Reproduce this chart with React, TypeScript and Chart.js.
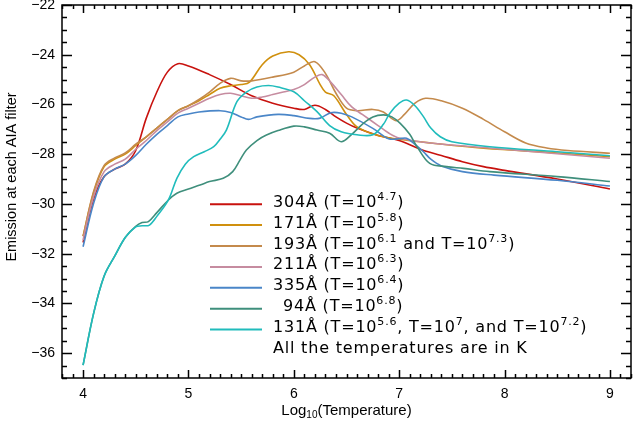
import React, { useEffect, useRef } from 'react';
import { Chart, registerables } from 'chart.js';

Chart.register(...registerables);

// ---------------- data ----------------
const xTicks = [4, 5, 6, 7, 8, 9];
const yTicks = [-36, -34, -32, -30, -28, -26, -24, -22];

const x304 = [4.0, 4.1, 4.2, 4.3, 4.4, 4.5, 4.6, 4.7, 4.8, 4.9, 5.0, 5.2, 5.4, 5.6, 5.8, 6.0, 6.1, 6.2, 6.3, 6.4, 6.5, 6.6, 6.8, 7.0, 7.2, 7.4, 7.6, 7.8, 8.0, 8.5, 9.0];
const y304 = [-31.55, -29.8, -28.9, -28.6, -28.4, -27.85, -26.55, -25.5, -24.7, -24.36, -24.45, -24.8, -25.2, -25.65, -25.95, -26.15, -26.2, -26.03, -26.2, -26.5, -26.75, -26.95, -27.25, -27.45, -27.8, -28.05, -28.3, -28.5, -28.65, -29.0, -29.4];

const x171 = [4.0, 4.1, 4.2, 4.3, 4.4, 4.5, 4.6, 4.7, 4.8, 4.9, 5.0, 5.1, 5.2, 5.3, 5.4, 5.5, 5.58, 5.7, 5.8, 5.95, 6.05, 6.15, 6.25, 6.3, 6.38, 6.5, 6.6, 6.8, 7.0, 7.3, 7.8, 8.5, 9.0];
const y171 = [-31.3, -29.55, -28.5, -28.2, -28.0, -27.65, -27.3, -26.95, -26.6, -26.25, -26.05, -25.85, -25.6, -25.35, -25.25, -25.2, -25.1, -24.4, -24.05, -23.88, -24.0, -24.4, -25.2, -25.5, -25.65, -26.4, -26.9, -27.25, -27.4, -27.55, -27.76, -27.95, -28.1];

const x193 = [4.0, 4.1, 4.2, 4.3, 4.4, 4.5, 4.6, 4.7, 4.8, 4.9, 5.0, 5.1, 5.2, 5.3, 5.4, 5.5, 5.6, 5.8, 6.0, 6.1, 6.2, 6.3, 6.4, 6.5, 6.6, 6.75, 6.85, 6.97, 7.05, 7.15, 7.25, 7.4, 7.6, 7.8, 8.0, 8.2, 8.4, 8.6, 9.0];
const y193 = [-31.3, -29.5, -28.45, -28.15, -27.95, -27.6, -27.3, -26.95, -26.6, -26.25, -26.05, -25.8, -25.5, -25.15, -24.95, -25.05, -25.05, -24.9, -24.7, -24.45, -24.28, -24.75, -25.55, -26.15, -26.25, -26.2, -26.3, -26.65, -26.4, -25.95, -25.75, -25.85, -26.15, -26.6, -27.1, -27.55, -27.75, -27.85, -27.96];

const x211 = [4.0, 4.1, 4.2, 4.3, 4.4, 4.5, 4.6, 4.7, 4.8, 4.9, 5.0, 5.1, 5.2, 5.3, 5.4, 5.5, 5.6, 5.7, 5.8, 5.9, 6.0, 6.1, 6.2, 6.27, 6.35, 6.45, 6.55, 6.65, 6.8, 6.9, 7.0, 7.3, 8.0, 9.0];
const y211 = [-31.45, -29.7, -28.7, -28.4, -28.2, -27.8, -27.45, -27.05, -26.7, -26.35, -26.15, -25.95, -25.75, -25.6, -25.55, -25.65, -25.75, -25.7, -25.6, -25.5, -25.4, -25.2, -24.9, -24.8, -25.1, -25.6, -26.1, -26.4, -26.85, -27.15, -27.35, -27.55, -27.8, -28.16];

const x335 = [4.0, 4.1, 4.2, 4.3, 4.4, 4.5, 4.6, 4.7, 4.8, 4.9, 5.0, 5.1, 5.3, 5.4, 5.5, 5.57, 5.65, 5.85, 6.0, 6.15, 6.25, 6.35, 6.45, 6.55, 6.75, 6.9, 7.0, 7.07, 7.15, 7.23, 7.3, 7.4, 7.6, 7.9, 8.5, 9.0];
const y335 = [-31.72, -29.97, -28.9, -28.6, -28.4, -28.05, -27.6, -27.2, -26.85, -26.5, -26.38, -26.3, -26.25, -26.32, -26.5, -26.6, -26.5, -26.4, -26.45, -26.56, -26.55, -26.33, -26.35, -26.5, -26.96, -27.38, -27.38, -27.36, -27.6, -27.9, -28.2, -28.47, -28.7, -28.84, -29.05, -29.28];

const x94 = [4.0, 4.1, 4.2, 4.3, 4.4, 4.5, 4.56, 4.62, 4.7, 4.81, 4.89, 5.0, 5.11, 5.2, 5.33, 5.42, 5.49, 5.55, 5.65, 5.74, 5.85, 6.0, 6.1, 6.22, 6.34, 6.45, 6.55, 6.66, 6.75, 6.85, 6.93, 7.01, 7.1, 7.17, 7.29, 7.45, 7.61, 7.86, 8.5, 9.0];
const y94 = [-36.48, -34.4, -32.9, -32.1, -31.35, -30.9, -30.75, -30.71, -30.35, -29.84, -29.57, -29.4, -29.24, -29.1, -28.97, -28.7, -28.23, -27.83, -27.45, -27.23, -27.05, -26.87, -26.9, -27.03, -27.16, -27.5, -27.2, -26.76, -26.5, -26.42, -26.5, -26.76, -27.2, -27.7, -28.37, -28.5, -28.57, -28.7, -28.9, -29.1];

const x131 = [4.0, 4.1, 4.2, 4.3, 4.4, 4.5, 4.56, 4.63, 4.7, 4.81, 4.89, 4.97, 5.05, 5.15, 5.24, 5.3, 5.36, 5.46, 5.55, 5.65, 5.76, 5.85, 6.0, 6.1, 6.22, 6.34, 6.45, 6.6, 6.75, 6.85, 6.91, 7.0, 7.07, 7.15, 7.23, 7.3, 7.39, 7.5, 7.86, 8.5, 9.0];
const y131 = [-36.48, -34.4, -32.9, -32.1, -31.35, -30.92, -30.88, -30.85, -30.5, -29.84, -28.97, -28.4, -28.1, -27.9, -27.7, -27.4, -27.03, -25.89, -25.5, -25.3, -25.24, -25.3, -25.49, -25.85, -26.29, -26.85, -27.1, -27.22, -27.22, -26.8, -26.36, -25.95, -25.82, -26.05, -26.49, -26.95, -27.3, -27.5, -27.7, -27.9, -28.06];

// legend text pieces: [text, isSuperscript]
type Seg = [string, boolean];
const legendItems: { color: string; indent: number; segs: Seg[] }[] = [
  { color: '#c8120e', indent: 0, segs: [['304Å (T=10', false], ['4.7', true], [')', false]] },
  { color: '#d0900e', indent: 0, segs: [['171Å (T=10', false], ['5.8', true], [')', false]] },
  { color: '#c48a4c', indent: 0, segs: [['193Å (T=10', false], ['6.1', true], [' and T=10', false], ['7.3', true], [')', false]] },
  { color: '#c68ca0', indent: 0, segs: [['211Å (T=10', false], ['6.3', true], [')', false]] },
  { color: '#4a86c8', indent: 0, segs: [['335Å (T=10', false], ['6.4', true], [')', false]] },
  { color: '#3f8f7c', indent: 10, segs: [['94Å (T=10', false], ['6.8', true], [')', false]] },
  { color: '#20bcbc', indent: 0, segs: [['131Å (T=10', false], ['5.6', true], [', T=10', false], ['7', true], [', and T=10', false], ['7.2', true], [')', false]] },
];
const legendNote = 'All the temperatures are in K';

const series = [
  { xs: x304, ys: y304 },
  { xs: x171, ys: y171 },
  { xs: x193, ys: y193 },
  { xs: x211, ys: y211 },
  { xs: x335, ys: y335 },
  { xs: x94, ys: y94 },
  { xs: x131, ys: y131 },
];

const LEG_FONT = '16px "DejaVu Sans", sans-serif';
const SUP_FONT = '11px "DejaVu Sans", sans-serif';

const idlPlugin = {
  id: 'idlFrame',
  afterDraw(chart: any) {
    const { ctx, chartArea: a, scales } = chart;
    const xs = scales.x;
    const ys = scales.y;
    ctx.save();
    ctx.strokeStyle = '#000';
    ctx.lineWidth = 1.5;
    ctx.strokeRect(a.left, a.top, a.right - a.left, a.bottom - a.top);
    ctx.beginPath();
    // x ticks (bottom & top), minor every 0.1
    for (let k = 38; k <= 92; k++) {
      const v = k / 10;
      const px = Math.round(xs.getPixelForValue(v)) + 0.5;
      const major = k % 10 === 0;
      const len = major ? 8 : 4;
      ctx.moveTo(px, a.bottom);
      ctx.lineTo(px, a.bottom - len);
      ctx.moveTo(px, a.top);
      ctx.lineTo(px, a.top + len);
    }
    // y ticks (left & right), minor every 0.5
    for (let k = -74; k <= -44; k++) {
      const v = k / 2;
      const py = Math.round(ys.getPixelForValue(v)) + 0.5;
      const major = k % 4 === 0;
      const len = major ? 10 : 5;
      ctx.moveTo(a.left, py);
      ctx.lineTo(a.left + len, py);
      ctx.moveTo(a.right, py);
      ctx.lineTo(a.right - len, py);
    }
    ctx.stroke();

    // axis titles
    ctx.fillStyle = '#000';
    ctx.font = '14.5px "Liberation Sans", Arial, sans-serif';
    ctx.textAlign = 'center';
    ctx.textBaseline = 'middle';
    ctx.save();
    ctx.translate(12, 177);
    ctx.rotate(-Math.PI / 2);
    ctx.fillText('Emission at each AIA filter', 0, 0);
    ctx.restore();

    // x title with subscript
    ctx.textAlign = 'left';
    ctx.textBaseline = 'alphabetic';
    const mainF = '15px "Liberation Sans", Arial, sans-serif';
    const subF = '10px "Liberation Sans", Arial, sans-serif';
    const parts: [string, boolean][] = [['Log', false], ['10', true], ['(Temperature)', false]];
    let tw = 0;
    for (const [t, s] of parts) { ctx.font = s ? subF : mainF; tw += ctx.measureText(t).width; }
    let cx = (a.left + a.right) / 2 - tw / 2;
    const by = 415;
    for (const [t, s] of parts) {
      ctx.font = s ? subF : mainF;
      ctx.fillText(t, cx, s ? by + 3 : by);
      cx += ctx.measureText(t).width;
    }

    // legend
    const rowH = 20.9;
    const base0 = 206.7;
    (ctx as any).letterSpacing = '0.8px';
    legendItems.forEach((it, i) => {
      const b = base0 + rowH * i;
      ctx.strokeStyle = it.color;
      ctx.lineWidth = 2;
      ctx.beginPath();
      ctx.moveTo(210, b - 2.5);
      ctx.lineTo(262, b - 2.5);
      ctx.stroke();
      let x = 273 + it.indent;
      ctx.fillStyle = '#000';
      for (const [t, s] of it.segs) {
        ctx.font = s ? SUP_FONT : LEG_FONT;
        ctx.fillText(t, x, s ? b - 7 : b);
        x += ctx.measureText(t).width;
      }
    });
    ctx.font = LEG_FONT;
    ctx.fillText(legendNote, 273, base0 + rowH * 7);
    ctx.restore();
  },
};

export default function App() {
  const ref = useRef<HTMLCanvasElement | null>(null);
  useEffect(() => {
    document.body.style.margin = '0';
    if (!ref.current) return;
    const chart = new Chart(ref.current, {
      type: 'line',
      data: {
        datasets: series.map((s, i) => ({
          data: s.xs.map((x, j) => ({ x, y: s.ys[j] })),
          borderColor: legendItems[i].color,
          borderWidth: 1.6,
          pointRadius: 0,
          fill: false,
          tension: 0.35,
          order: series.length - i,
        })),
      },
      options: {
        responsive: false,
        animation: false,
        layout: { padding: { top: 5, right: 2, left: 0, bottom: 0 } },
        plugins: { legend: { display: false }, tooltip: { enabled: false } },
        scales: {
          x: {
            type: 'linear',
            min: 3.8,
            max: 9.2,
            grid: { display: false, drawTicks: false },
            border: { display: false },
            ticks: {
              padding: 8,
              color: '#000',
              font: { family: '"Liberation Sans", Arial, sans-serif', size: 14 },
              maxRotation: 0,
              callback: (v: any) => String(v),
            },
            afterBuildTicks: (s: any) => { s.ticks = xTicks.map((v) => ({ value: v })); },
            afterFit: (s: any) => { s.height = 47; s.paddingLeft = 0; s.paddingRight = 0; },
          },
          y: {
            type: 'linear',
            min: -37,
            max: -22,
            grid: { display: false, drawTicks: false },
            border: { display: false },
            ticks: {
              padding: 7,
              color: '#000',
              font: { family: '"Liberation Sans", Arial, sans-serif', size: 14 },
              callback: (v: any) => (v < 0 ? '\u2212' + Math.abs(v) : String(v)),
            },
            afterBuildTicks: (s: any) => { s.ticks = yTicks.map((v) => ({ value: v })); },
            afterFit: (s: any) => { s.width = 62; s.paddingTop = 0; s.paddingBottom = 0; },
          },
        },
      },
      plugins: [idlPlugin],
    });
    return () => chart.destroy();
  }, []);
  return (
    <div style={{ position: 'fixed', left: 0, top: 0, width: 633, height: 425, background: '#fff' }}>
      <canvas ref={ref} width={633} height={425} style={{ width: 633, height: 425 }} />
    </div>
  );
}
